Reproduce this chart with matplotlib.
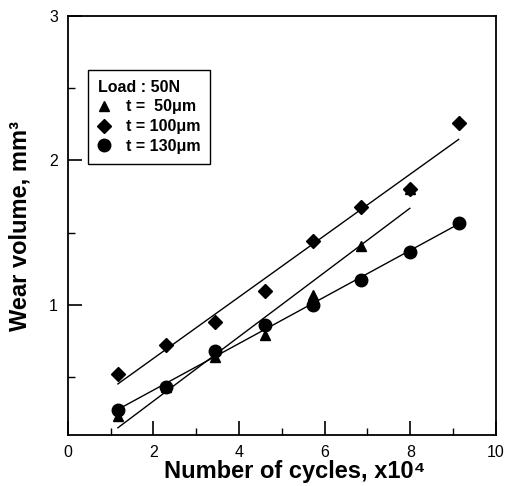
import numpy as np
import matplotlib
matplotlib.use("Agg")
import matplotlib.pyplot as plt
from matplotlib.ticker import MultipleLocator

plt.rcParams["font.family"] = ["Liberation Sans", "DejaVu Sans"]

# number of cycles (x10^4)
cycles = [1.17, 2.30, 3.44, 4.60, 5.72, 6.86, 7.99, 9.13]

# wear volume, mm^3
wear_50 = [0.23, 0.43, 0.64, 0.79, 1.07, 1.41, 1.80]          # t = 50 um
wear_100 = [0.52, 0.72, 0.88, 1.10, 1.44, 1.68, 1.80, 2.26]   # t = 100 um
wear_130 = [0.27, 0.43, 0.68, 0.86, 1.00, 1.17, 1.37, 1.57]   # t = 130 um

labels = ["t =  50\u03bcm", "t = 100\u03bcm", "t = 130\u03bcm"]
markers = ["^", "D", "o"]
sizes = [6.5, 7, 9]

fig = plt.figure(figsize=(5.06, 4.86), dpi=100)
ax = fig.add_axes([0.134, 0.105, 0.846, 0.862])

for ys, lab, mk, ms in zip([wear_50, wear_100, wear_130], labels, markers, sizes):
    x = np.array(cycles[:len(ys)])
    y = np.array(ys)
    ax.plot(x, y, linestyle="none", marker=mk, ms=ms, color="black", label=lab)
    # least squares line over the data range
    k, b = np.polyfit(x, y, 1)
    xf = np.array([x.min(), x.max()])
    ax.plot(xf, k * xf + b, color="black", lw=1.0)

ax.set_xlim(0, 10)
ax.set_ylim(0.1, 3)
ax.xaxis.set_major_locator(MultipleLocator(2))
ax.xaxis.set_minor_locator(MultipleLocator(1))
ax.yaxis.set_major_locator(MultipleLocator(1))
ax.yaxis.set_minor_locator(MultipleLocator(0.5))
ax.tick_params(which="major", direction="in", length=10, width=1.2, labelsize=11.5, pad=7)
ax.tick_params(which="minor", direction="in", length=5, width=1.0)
for s in ax.spines.values():
    s.set_linewidth(1.3)

ax.set_xlabel("Number of cycles, x10\u2074", fontsize=17, fontweight="bold")
ax.set_ylabel("Wear volume, mm\u00b3", fontsize=17, fontweight="bold")
ax.xaxis.set_label_coords(0.53, -0.06)
ax.yaxis.set_label_coords(-0.085, 0.5)

leg = ax.legend(title="Load : 50N", loc="upper left", bbox_to_anchor=(0.047, 0.871),
                borderaxespad=0, frameon=True, fancybox=False, edgecolor="black",
                framealpha=1, prop={"size": 11.5, "weight": "bold"}, handlelength=0.8,
                handletextpad=1.0, labelspacing=0.3, borderpad=0.6)
leg.get_title().set_fontweight("bold")
leg.get_title().set_fontsize(11.5)
leg._legend_box.align = "left"
leg.get_frame().set_linewidth(1.0)

fig.savefig("out.png", dpi=100)
